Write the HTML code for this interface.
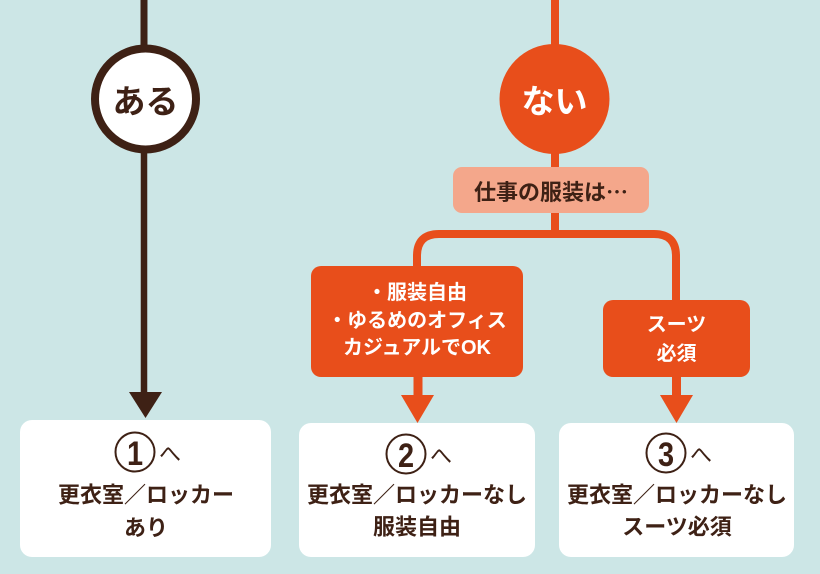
<!DOCTYPE html>
<html><head><meta charset="utf-8"><style>
html,body{margin:0;padding:0;background:#cce6e6;}
svg{display:block;}
text{font-family:"Liberation Sans","Noto Sans CJK JP",sans-serif;}
.jp{font-family:"Noto Sans CJK JP",sans-serif;}
</style></head><body>
<svg width="820" height="574" viewBox="0 0 820 574" xmlns="http://www.w3.org/2000/svg">
<rect width="820" height="574" fill="#cce6e6"/>
<!-- left branch -->
<line x1="144" y1="0" x2="144" y2="50" stroke="#3e2115" stroke-width="7"/>
<line x1="144" y1="150" x2="144" y2="394" stroke="#3e2115" stroke-width="6.5"/>
<polygon points="129,392 162,392 145.5,418" fill="#3e2115"/>
<circle cx="145.5" cy="99" r="50.5" fill="#fff" stroke="#3e2115" stroke-width="8"/>
<text x="145.5" y="99" class="jp" font-size="33" font-weight="700" fill="#3e2115" text-anchor="middle" dominant-baseline="central">ある</text>

<!-- right branch -->
<line x1="555" y1="0" x2="555" y2="50" stroke="#e84e1b" stroke-width="8"/>
<line x1="555" y1="150" x2="555" y2="234" stroke="#e84e1b" stroke-width="8"/>
<circle cx="554.5" cy="99" r="55" fill="#e84e1b"/>
<text x="554.5" y="99" class="jp" font-size="33" font-weight="700" fill="#fff" text-anchor="middle" dominant-baseline="central">ない</text>

<rect x="453" y="167" width="196" height="46" rx="9" fill="#f4a78b"/>
<text x="551" y="191" font-size="22" font-weight="700" fill="#3e2115" text-anchor="middle" dominant-baseline="central"><tspan class="jp">仕事の服装は</tspan><tspan class="jp" style="font-family:'Noto Sans CJK JP',sans-serif">…</tspan></text>

<path d="M417,270 L417,256 Q417,234 439,234 L654,234 Q676,234 676,256 L676,304" fill="none" stroke="#e84e1b" stroke-width="8"/>

<!-- orange box 1 -->
<rect x="311" y="266" width="212" height="111" rx="10" fill="#e84e1b"/>
<text x="417" y="293" font-size="20" font-weight="700" fill="#fff" text-anchor="middle" dominant-baseline="central">・服装自由</text>
<text x="417" y="321" font-size="20" font-weight="700" fill="#fff" text-anchor="middle" dominant-baseline="central">・ゆるめのオフィス</text>
<text x="417" y="348" font-size="20" font-weight="700" fill="#fff" text-anchor="middle" dominant-baseline="central">カジュアルでOK</text>
<line x1="418" y1="376" x2="418" y2="397" stroke="#e84e1b" stroke-width="9"/>
<polygon points="401,395 434,395 417.5,423" fill="#e84e1b"/>

<!-- orange box 2 -->
<rect x="603" y="300" width="147" height="77" rx="10" fill="#e84e1b"/>
<text x="676.5" y="325" font-size="20" font-weight="700" fill="#fff" text-anchor="middle" dominant-baseline="central">スーツ</text>
<text x="676.5" y="354" font-size="20" font-weight="700" fill="#fff" text-anchor="middle" dominant-baseline="central">必須</text>
<line x1="676.5" y1="376" x2="676.5" y2="397" stroke="#e84e1b" stroke-width="9"/>
<polygon points="660,395 693,395 676.5,423" fill="#e84e1b"/>

<!-- bottom boxes -->
<rect x="20" y="420" width="251" height="137" rx="12" fill="#fff"/>
<rect x="299" y="423" width="236" height="134" rx="12" fill="#fff"/>
<rect x="559" y="423" width="235" height="134" rx="12" fill="#fff"/>

<!-- box 1 text -->
<ellipse cx="135" cy="452" rx="19.5" ry="19.5" fill="none" stroke="#3e2115" stroke-width="2"/>
<text x="135" y="453" font-size="34" font-weight="700" fill="#3e2115" text-anchor="middle" dominant-baseline="central" transform="translate(135 0) scale(0.85 1) translate(-135 0)">1</text>
<text x="170" y="454" font-size="22" fill="#3e2115" text-anchor="middle" dominant-baseline="central">へ</text>
<text x="146" y="495" font-size="22" font-weight="700" fill="#3e2115" text-anchor="middle" dominant-baseline="central">更衣室／ロッカー</text>
<text x="146" y="528" font-size="22" font-weight="700" fill="#3e2115" text-anchor="middle" dominant-baseline="central">あり</text>

<!-- box 2 text -->
<ellipse cx="406" cy="454" rx="19.5" ry="19.5" fill="none" stroke="#3e2115" stroke-width="2"/>
<text x="406" y="455" font-size="34" font-weight="700" fill="#3e2115" text-anchor="middle" dominant-baseline="central" transform="translate(406 0) scale(0.85 1) translate(-406 0)">2</text>
<text x="441" y="456" font-size="22" fill="#3e2115" text-anchor="middle" dominant-baseline="central">へ</text>
<text x="417" y="495" font-size="22" font-weight="700" fill="#3e2115" text-anchor="middle" dominant-baseline="central">更衣室／ロッカーなし</text>
<text x="417" y="527" font-size="22" font-weight="700" fill="#3e2115" text-anchor="middle" dominant-baseline="central">服装自由</text>

<!-- box 3 text -->
<ellipse cx="666" cy="453" rx="19.5" ry="19.5" fill="none" stroke="#3e2115" stroke-width="2"/>
<text x="666" y="454" font-size="34" font-weight="700" fill="#3e2115" text-anchor="middle" dominant-baseline="central" transform="translate(666 0) scale(0.85 1) translate(-666 0)">3</text>
<text x="701" y="455" font-size="22" fill="#3e2115" text-anchor="middle" dominant-baseline="central">へ</text>
<text x="677" y="495" font-size="22" font-weight="700" fill="#3e2115" text-anchor="middle" dominant-baseline="central">更衣室／ロッカーなし</text>
<text x="677" y="527" font-size="22" font-weight="700" fill="#3e2115" text-anchor="middle" dominant-baseline="central">スーツ必須</text>
</svg>
</body></html>
